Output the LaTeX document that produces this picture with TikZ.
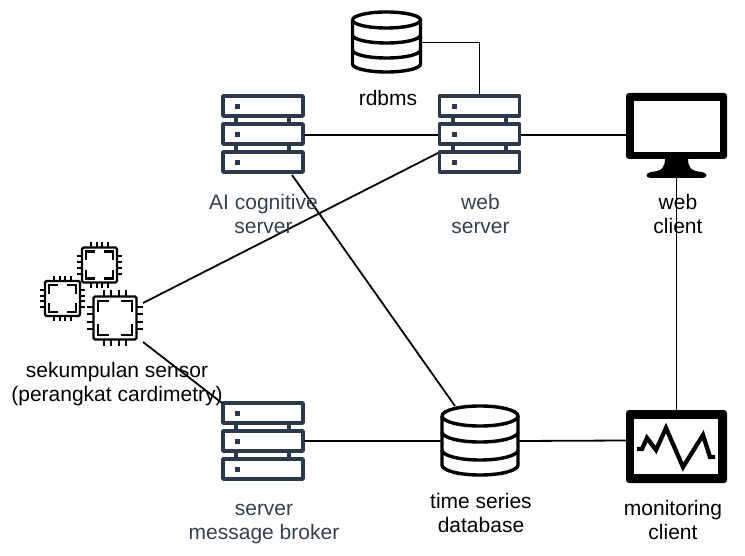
\documentclass[tikz,border=0pt]{standalone}
\usepackage{fontspec}
\setmainfont{Liberation Sans}
\definecolor{slate}{HTML}{2B3A4A}
\definecolor{slatetext}{HTML}{33414F}
\tikzset{
  every picture/.append style={x=1pt,y=-1pt},
  anchorbox/.style={inner sep=0pt,outer sep=0pt,minimum width=#1},
  conn/.style={draw=black,line width=1.8pt},
  lab/.style={font=\fontsize{21}{24}\selectfont,align=center,inner sep=0pt,text=black},
  slab/.style={lab,text=slatetext},
  pics/server/.style={code={
    \foreach \yy in {-38,-10,18}{
      \draw[slate,line width=3.4pt,line join=round,fill=white] (-40,\yy) rectangle (40,\yy+20);
      \fill[slate] (-28,\yy+8) rectangle (-23,\yy+13);
    }
    \foreach \xx in {-27,26}{
      \fill[slate] (\xx-2,-18) rectangle (\xx+2,-10);
      \fill[slate] (\xx-2,10) rectangle (\xx+2,18);
    }
  }},
  pics/dbcyl/.style n args={6}{code={
    % #1 half width, #2 ry, #3 top centre y, #4,#5,#6 lowest points of the lower arcs
    \draw[black,line width=3.4pt,line join=round]
      (-#1,#3) arc[start angle=180,end angle=0,x radius=#1,y radius=#2]
      arc[start angle=0,end angle=-180,x radius=#1,y radius=#2];
    \draw[black,line width=3.4pt]
      (-#1,#3) -- (-#1,#6-#2)
      arc[start angle=180,end angle=0,x radius=#1,y radius=#2] -- (#1,#3);
    \draw[black,line width=3.4pt]
      (-#1,#4-#2) arc[start angle=180,end angle=0,x radius=#1,y radius=#2];
    \draw[black,line width=3.4pt]
      (-#1,#5-#2) arc[start angle=180,end angle=0,x radius=#1,y radius=#2];
  }},
  pics/chip/.style={code={
    \def\h{#1}
    \draw[black,line width=2.3pt,rounded corners=1.5pt,fill=white] (-\h,-\h) rectangle (\h,\h);
    \foreach \p in {-0.5,-0.17,0.17,0.5}{
      \draw[black,line width=2pt] (\p*\h,-\h) -- (\p*\h,-1.3*\h);
      \draw[black,line width=2pt] (\p*\h,\h) -- (\p*\h,1.3*\h);
      \draw[black,line width=2pt] (-\h,\p*\h) -- (-1.3*\h,\p*\h);
      \draw[black,line width=2pt] (\h,\p*\h) -- (1.3*\h,\p*\h);
    }
    \foreach \sx/\sy in {-1/-1,1/-1,-1/1,1/1}{
      \draw[black,line width=2.4pt] (\sx*0.28*\h,\sy*0.78*\h) -- (\sx*0.78*\h,\sy*0.78*\h) -- (\sx*0.78*\h,\sy*0.28*\h);
    }
  }},
}
\begin{document}
\begin{tikzpicture}
\useasboundingbox (0,0) rectangle (745,556);
% anchor nodes
\node[anchorbox=82,minimum height=80] (ai) at (263,135) {};
\node[anchorbox=83,minimum height=80] (web) at (479.5,135) {};
\node[anchorbox=82,minimum height=80] (broker) at (263,441) {};
\node[anchorbox=71,minimum height=61] (rdbms) at (386.5,42.5) {};
\node[anchorbox=78,minimum height=70] (tsdb) at (480,441) {};
\node[anchorbox=101,minimum height=84] (client) at (676.5,135) {};
\node[anchorbox=101,minimum height=61] (monitor) at (676.5,440.5) {};
\node[anchorbox=56,minimum height=58] (sensor) at (115,318) {};
\coordinate (webin) at (438,153);
\coordinate (sensorup) at (143,303);
\coordinate (sensordown) at (143,342);
\coordinate (aiout) at (292,175);
\coordinate (dbin) at (455,406);
\coordinate (brokerin) at (222,403);
% icons
\pic at (263,134) {server};
\pic at (479.5,134) {server};
\pic at (263,441) {server};
\pic at (386.5,0) {dbcyl={34}{8}{20}{43}{58}{72}};
\pic at (480,0) {dbcyl={38}{10}{416}{442}{460}{475}};
\pic at (99.5,265) {chip=17.5};
\pic at (62.5,298.5) {chip=17.5};
\pic at (115,318) {chip=21.5};
% web client monitor
\fill[black,rounded corners=3pt] (626,93) rectangle (727,159);
\fill[white] (633.5,101) rectangle (720,152);
\fill[black] (665,158) .. controls (665,168) and (662,171) .. (651,172)
  .. controls (645,173) and (645,178) .. (651,178) -- (702,178)
  .. controls (708,178) and (708,173) .. (702,172)
  .. controls (691,171) and (688,168) .. (688,158) -- cycle;
% monitoring client
\fill[black,rounded corners=3pt] (626,410) rectangle (727,483);
\fill[white] (634,419) rectangle (718,474);
\draw[black,line width=4.3pt,miter limit=8] (637,449) -- (642,449) -- (647,438) -- (656,450) -- (666,428) -- (683,467) -- (703,435) -- (710,457) -- (715,457);
% connectors
\draw[conn] (rdbms.east) -| (web.north);
\draw[conn] (ai.east) -- (web.west);
\draw[conn] (web.east) -- (client.west);
\draw[conn] (webin) -- (sensorup);
\draw[conn] (aiout) -- (dbin);
\draw[conn] (sensordown) -- (brokerin);
\draw[conn] (broker.east) -- (tsdb.west);
\draw[conn] (tsdb.east) -- (monitor.west);
\draw[conn] (client.south) -- (monitor.north);
% labels
\node[lab] (l1) at (388,98) {rdbms};
\node[slab] (l2) at (263.5,214) {AI cognitive\\server};
\node[slab] (l3) at (480.5,214) {web\\server};
\node[lab] (l4) at (678,214) {web\\client};
\node[lab] (l5) at (117,384) {sekumpulan sensor\\(perangkat cardimetry)};
\node[slab] (l6) at (264,524) {server\\message broker};
\node[lab] (l7) at (481,513) {time series\\database};
\node[lab] (l8) at (673,520) {monitoring\\client};
\end{tikzpicture}
\end{document}
